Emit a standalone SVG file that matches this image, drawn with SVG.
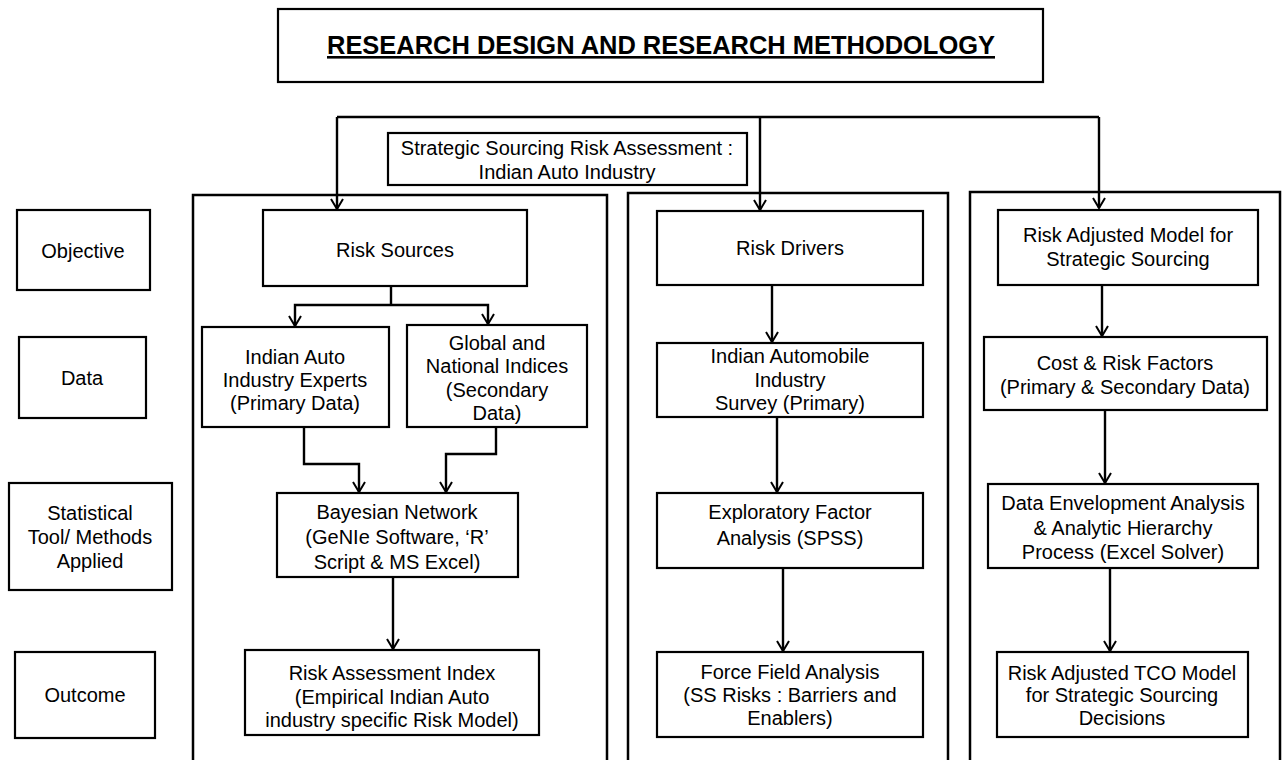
<svg xmlns="http://www.w3.org/2000/svg" width="1285" height="760" viewBox="0 0 1285 760">
<style>
.box{fill:#fff;stroke:#000;stroke-width:2.2}
.frame{fill:none;stroke:#000;stroke-width:2.5}
.con{fill:none;stroke:#000;stroke-width:2.4;marker-end:url(#arr)}
.bus{fill:none;stroke:#000;stroke-width:2.4}
text{font-family:"Liberation Sans",Arial,sans-serif;font-size:20px;fill:#000;text-anchor:middle}
.title{font-size:26px;font-weight:bold;text-decoration:underline}
</style>
<defs>
<marker id="arr" markerUnits="userSpaceOnUse" markerWidth="14" markerHeight="14" viewBox="0 0 14 14" refX="12" refY="7" orient="auto">
<path d="M2,1 L12,7 L2,13" fill="none" stroke="#000" stroke-width="2"/>
</marker>
</defs>
<rect width="1285" height="760" fill="#fff"/>

<g id="title">
<rect class="box" x="278" y="9" width="765" height="73"/>
<text class="title" x="661" y="54" textLength="668" lengthAdjust="spacingAndGlyphs">RESEARCH DESIGN AND RESEARCH METHODOLOGY</text>
</g>

<g id="frames">
<path class="frame" d="M193,770 V195 H607 V770"/>
<path class="frame" d="M628,770 V193 H948 V770"/>
<path class="frame" d="M970,770 V192 H1280 V770"/>
</g>

<g id="connectors">
<path class="bus" d="M337,117 H1099"/>
<path class="con" d="M337,117 V209"/>
<path class="con" d="M760,117 V210"/>
<path class="con" d="M1099,117 V208"/>
<path class="bus" d="M391,286 V305"/>
<path class="con" d="M391,305 H295 V326"/>
<path class="con" d="M391,305 H488 V324"/>
<path class="con" d="M304,427 V464 H359 V492"/>
<path class="con" d="M496,427 V454 H446 V492"/>
<path class="con" d="M393,577 V649"/>
<path class="con" d="M772,285 V342"/>
<path class="con" d="M777,417 V492"/>
<path class="con" d="M783,568 V651"/>
<path class="con" d="M1102,285 V336"/>
<path class="con" d="M1105,410 V483"/>
<path class="con" d="M1110,568 V651"/>
</g>

<g id="strategic">
<rect class="box" x="388" y="133" width="359" height="52"/>
<text x="567" y="155">Strategic Sourcing Risk Assessment :</text>
<text x="567" y="179">Indian Auto Industry</text>
</g>

<g id="lbl-objective">
<rect class="box" x="17" y="210" width="133" height="80"/>
<text x="83" y="258">Objective</text>
</g>
<g id="lbl-data">
<rect class="box" x="19" y="337" width="127" height="81"/>
<text x="82" y="385">Data</text>
</g>
<g id="lbl-tools">
<rect class="box" x="9" y="483" width="163" height="107"/>
<text x="90" y="520">Statistical</text>
<text x="90" y="544">Tool/ Methods</text>
<text x="90" y="568">Applied</text>
</g>
<g id="lbl-outcome">
<rect class="box" x="15" y="652" width="140" height="86"/>
<text x="85" y="702">Outcome</text>
</g>

<g id="risk-sources">
<rect class="box" x="263" y="210" width="264" height="76"/>
<text x="395" y="257">Risk Sources</text>
</g>
<g id="experts">
<rect class="box" x="202" y="327" width="187" height="100"/>
<text x="295" y="364">Indian Auto</text>
<text x="295" y="387">Industry Experts</text>
<text x="295" y="410">(Primary Data)</text>
</g>
<g id="indices">
<rect class="box" x="407" y="325" width="180" height="102"/>
<text x="497" y="350">Global and</text>
<text x="497" y="373">National Indices</text>
<text x="497" y="397">(Secondary</text>
<text x="497" y="420">Data)</text>
</g>
<g id="bayesian">
<rect class="box" x="277" y="493" width="241" height="84"/>
<text x="397" y="519">Bayesian Network</text>
<text x="397" y="544">(GeNIe Software, ‘R’</text>
<text x="397" y="569">Script &amp; MS Excel)</text>
</g>
<g id="risk-index">
<rect class="box" x="245" y="650" width="294" height="85"/>
<text x="392" y="680">Risk Assessment Index</text>
<text x="392" y="704">(Empirical Indian Auto</text>
<text x="392" y="727">industry specific Risk Model)</text>
</g>

<g id="risk-drivers">
<rect class="box" x="657" y="211" width="266" height="74"/>
<text x="790" y="255">Risk Drivers</text>
</g>
<g id="survey">
<rect class="box" x="657" y="343" width="266" height="74"/>
<text x="790" y="363">Indian Automobile</text>
<text x="790" y="387">Industry</text>
<text x="790" y="410">Survey (Primary)</text>
</g>
<g id="efa">
<rect class="box" x="657" y="493" width="266" height="75"/>
<text x="790" y="519">Exploratory Factor</text>
<text x="790" y="545">Analysis (SPSS)</text>
</g>
<g id="force-field">
<rect class="box" x="657" y="652" width="266" height="85"/>
<text x="790" y="679">Force Field Analysis</text>
<text x="790" y="702">(SS Risks : Barriers and</text>
<text x="790" y="725">Enablers)</text>
</g>

<g id="risk-model">
<rect class="box" x="998" y="210" width="260" height="75"/>
<text x="1128" y="242">Risk Adjusted  Model for</text>
<text x="1128" y="266">Strategic Sourcing</text>
</g>
<g id="cost-risk">
<rect class="box" x="984" y="337" width="283" height="73"/>
<text x="1125" y="370">Cost &amp; Risk Factors</text>
<text x="1125" y="394">(Primary &amp; Secondary Data)</text>
</g>
<g id="dea">
<rect class="box" x="988" y="484" width="270" height="84"/>
<text x="1123" y="510">Data Envelopment  Analysis</text>
<text x="1123" y="535">&amp; Analytic  Hierarchy</text>
<text x="1123" y="559">Process (Excel Solver)</text>
</g>
<g id="tco">
<rect class="box" x="997" y="652" width="251" height="85"/>
<text x="1122" y="680">Risk Adjusted  TCO Model</text>
<text x="1122" y="702">for Strategic Sourcing</text>
<text x="1122" y="725">Decisions</text>
</g>
</svg>
